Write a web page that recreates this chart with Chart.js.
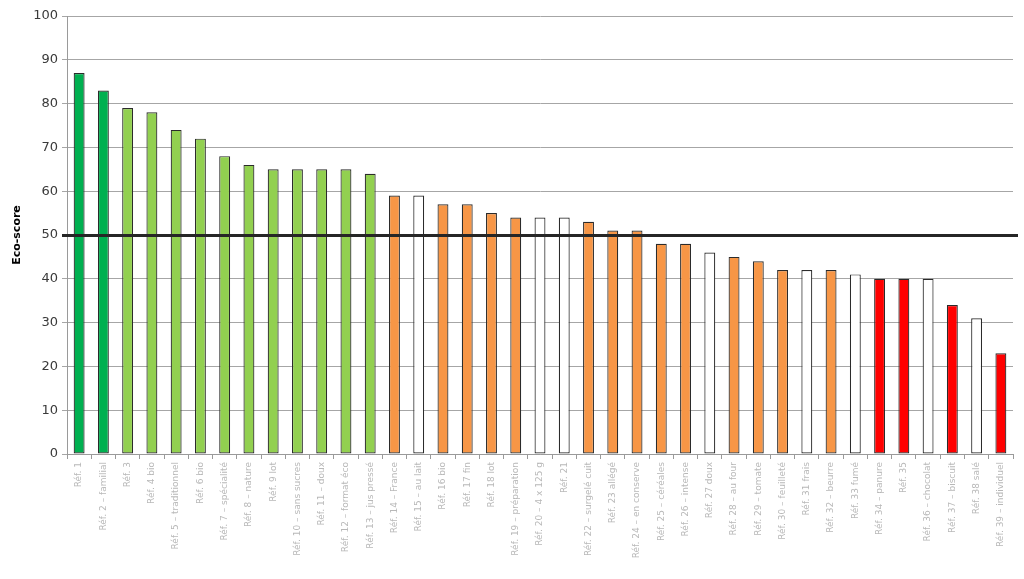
<!DOCTYPE html>
<html>
<head>
<meta charset="utf-8">
<script src="https://cdn.jsdelivr.net/npm/chart.js@4/dist/chart.umd.min.js"></script>
<style>
  html, body { margin: 0; padding: 0; background: #fff; }
  #wrap { width: 1024px; height: 579px; }
</style>
</head>
<body>
<div id="wrap"><canvas id="eco"></canvas></div>
<script>
// product names are illegible in the source picture, so these are stand-ins
const products = [
  'Réf. 1', 'Réf. 2 – familial', 'Réf. 3', 'Réf. 4 bio', 'Réf. 5 – traditionnel',
  'Réf. 6 bio', 'Réf. 7 – spécialité', 'Réf. 8 – nature', 'Réf. 9 lot',
  'Réf. 10 – sans sucres', 'Réf. 11 – doux', 'Réf. 12 – format éco',
  'Réf. 13 – jus pressé', 'Réf. 14 – France', 'Réf. 15 – au lait', 'Réf. 16 bio',
  'Réf. 17 fin', 'Réf. 18 lot', 'Réf. 19 – préparation', 'Réf. 20 – 4 x 125 g',
  'Réf. 21', 'Réf. 22 – surgelé cuit', 'Réf. 23 allégé', 'Réf. 24 – en conserve',
  'Réf. 25 – céréales', 'Réf. 26 – intense', 'Réf. 27 doux', 'Réf. 28 – au four',
  'Réf. 29 – tomate', 'Réf. 30 – feuilleté', 'Réf. 31 frais', 'Réf. 32 – beurre',
  'Réf. 33 fumé', 'Réf. 34 – panure', 'Réf. 35', 'Réf. 36 – chocolat',
  'Réf. 37 – biscuit', 'Réf. 38 salé', 'Réf. 39 – individuel'
];
const scores = [
  87, 83, 79, 78, 74, 72, 68, 66, 65, 65, 65, 65, 64,
  59, 59, 57, 57, 55, 54, 54, 54, 53, 51, 51, 48, 48,
  46, 45, 44, 42, 42, 42, 41, 40, 40, 40, 34, 31, 23
];
// A dark green, B light green, C orange, D red, N no colour
const grades = [
  'A', 'A', 'B', 'B', 'B', 'B', 'B', 'B', 'B', 'B', 'B', 'B', 'B',
  'C', 'N', 'C', 'C', 'C', 'C', 'N', 'N', 'C', 'C', 'C', 'C', 'C',
  'N', 'C', 'C', 'C', 'N', 'C', 'N', 'D', 'D', 'N', 'D', 'N', 'D'
];
const threshold = 50;

const gradeColors = { A: '#00b050', B: '#92d050', C: '#f79646', D: '#ff0000', N: '#ffffff' };

const thresholdLine = {
  id: 'thresholdLine',
  afterDatasetsDraw(chart) {
    const { ctx, chartArea, scales } = chart;
    const y = Math.round(scales.y.getPixelForValue(threshold)) + 0.5;
    ctx.save();
    ctx.strokeStyle = '#262626';
    ctx.lineWidth = 3;
    ctx.beginPath();
    ctx.moveTo(chartArea.left - 5, y);
    ctx.lineTo(chartArea.right + 5, y);
    ctx.stroke();
    ctx.restore();
  }
};

new Chart(document.getElementById('eco'), {
  type: 'bar',
  data: {
    labels: products,
    datasets: [{
      label: 'Eco-score',
      data: scores,
      backgroundColor: grades.map(g => gradeColors[g]),
      borderColor: '#2b2b2b',
      borderWidth: 1.2,
      borderSkipped: false,
      barPercentage: 0.45,
      categoryPercentage: 1
    }]
  },
  options: {
    responsive: true,
    maintainAspectRatio: false,
    animation: false,
    layout: { padding: { top: 16, right: 11, left: 0, bottom: 0 } },
    plugins: { legend: { display: false }, tooltip: { enabled: false } },
    scales: {
      x: {
        grid: { offset: true, drawOnChartArea: false, drawTicks: true, tickLength: 5, color: '#9a9a9a' },
        border: { color: '#9a9a9a' },
        ticks: {
          autoSkip: false, minRotation: 90, maxRotation: 90, padding: 3,
          color: '#b8b8b8', font: { family: 'DejaVu Sans', size: 9 }
        },
        afterFit(scale) { scale.height = 125; }
      },
      y: {
        min: 0, max: 100,
        ticks: { stepSize: 10, padding: 4, color: '#3a3a3a', font: { family: 'DejaVu Sans', size: 13 } },
        grid: { color: '#a6a6a6', tickLength: 5 },
        border: { color: '#9a9a9a' },
        title: {
          display: true, text: 'Eco-score', color: '#000',
          font: { family: 'DejaVu Sans', size: 11, weight: 'bold' },
          padding: { top: 11, bottom: 0 }
        },
        afterFit(scale) { scale.width = 67; }
      }
    }
  },
  plugins: [thresholdLine]
});
</script>
</body>
</html>
